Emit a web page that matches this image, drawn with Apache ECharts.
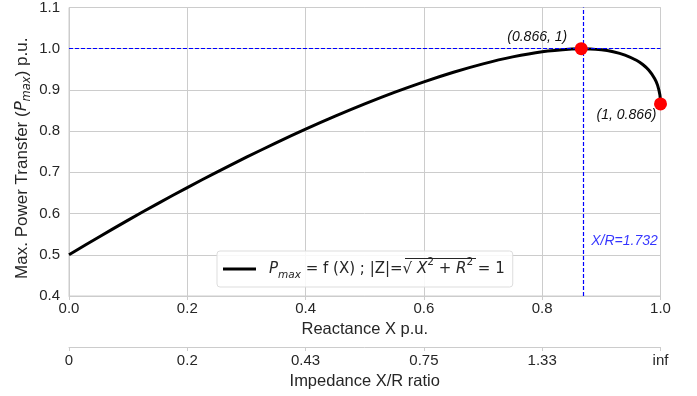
<!DOCTYPE html>
<html><head><meta charset="utf-8">
<script src="https://cdn.jsdelivr.net/npm/echarts@6/dist/echarts.min.js"></script>
<style>html,body{margin:0;padding:0;background:#fff}#c{width:697px;height:396px}</style>
</head><body><div id="c"></div>
<script>
// Reactance X (p.u.) and max power transfer (p.u.)
const xValues = [0, 0.05, 0.1, 0.15, 0.2, 0.25, 0.3, 0.35, 0.4, 0.45, 0.5, 0.55, 0.6, 0.65, 0.7, 0.75, 0.8, 0.85, 0.866, 0.9, 0.92, 0.94, 0.96, 0.97, 0.98, 0.99, 0.995, 0.999, 1.0];
const pmaxValues = [0.5, 0.5427, 0.5841, 0.6242, 0.6631, 0.7006, 0.7368, 0.7715, 0.8047, 0.8362, 0.866, 0.8939, 0.9196, 0.9429, 0.9633, 0.9802, 0.9928, 0.9995, 1.0, 0.9973, 0.9927, 0.9846, 0.9714, 0.9616, 0.9482, 0.9279, 0.9116, 0.8875, 0.866];
const highlightPoints = [[0.866, 1.0], [1.0, 0.866]];
const highlightLabels = ['(0.866, 1)', '(1, 0.866)'];
const xTicks = [0, 0.2, 0.4, 0.6, 0.8, 1.0];
const ratioTickLabels = ['0', '0.2', '0.43', '0.75', '1.33', 'inf'];
const peakX = 0.866, peakY = 1.0;
const ratioText = 'X/R=1.732';
const ratioTextY = 0.532;

const chart = echarts.init(document.getElementById('c'));
const gridCol = '#cccccc', txt = '#262626', blue = '#0000ff';
const font = 'Liberation Sans, Arial, sans-serif';
const dv = 'DejaVu Sans';
const dash = {color: blue, type: [4, 2], width: 1.2, opacity: 1};
chart.setOption({
  animation: false,
  grid: {left: 69, right: 36.5, top: 5.5, bottom: 100, show: true, borderColor: gridCol, borderWidth: 1},
  legend: {
    left: 217, top: 251, padding: [6, 8, 6, 6], itemWidth: 33, itemGap: 14,
    borderColor: '#dddddd', borderWidth: 1, borderRadius: 3, backgroundColor: 'rgba(255,255,255,0.85)',
    data: [{name: 'curve', icon: 'path://M0,0L33,0L33,3L0,3Z'}],
    itemHeight: 3,
    formatter: () => '{pi|P}{sub|max}{n| = f (X) ; |Z|=√}{i| X}{sup|2}{n| + }{i|R}{sup|2}{n| = 1}',
    textStyle: {
      fontFamily: dv, fontSize: 15, color: txt, lineHeight: 24,
      rich: {
        pi: {fontFamily: dv, fontStyle: 'italic', fontSize: 15, color: txt, lineHeight: 24, padding: [0, 0, 0, 8]},
        i: {fontFamily: dv, fontStyle: 'italic', fontSize: 15, color: txt, lineHeight: 24},
        n: {fontFamily: dv, fontSize: 15, color: txt, lineHeight: 24},
        sub: {fontFamily: dv, fontStyle: 'italic', fontSize: 10.5, color: txt, lineHeight: 13, verticalAlign: 'bottom'},
        sup: {fontFamily: dv, fontSize: 10.5, color: txt, lineHeight: 14, verticalAlign: 'top'}
      }
    }
  },
  graphic: [{type: 'line', z: 1000, zlevel: 1, shape: {x1: 405, y1: 258.5, x2: 476, y2: 258.5}, style: {stroke: txt, lineWidth: 1}}],
  xAxis: [{
    type: 'value', min: 0, max: 1, interval: 0.2, position: 'bottom',
    name: 'Reactance X p.u.', nameLocation: 'middle', nameGap: 22,
    nameTextStyle: {fontFamily: font, fontSize: 16.5, color: txt},
    axisLine: {show: true, lineStyle: {color: gridCol}},
    axisTick: {show: true, length: 4, lineStyle: {color: gridCol}},
    axisLabel: {fontFamily: font, fontSize: 15, color: txt, margin: 5, formatter: v => v.toFixed(1)},
    splitLine: {show: true, lineStyle: {color: gridCol}}
  }, {
    type: 'value', min: 0, max: 1, interval: 0.2, position: 'bottom', offset: 51,
    name: 'Impedance X/R ratio', nameLocation: 'middle', nameGap: 25,
    nameTextStyle: {fontFamily: font, fontSize: 16.5, color: txt},
    axisLine: {show: true, onZero: false, lineStyle: {color: gridCol}},
    axisTick: {show: true, length: 4, lineStyle: {color: gridCol}},
    axisLabel: {fontFamily: font, fontSize: 15, color: txt, margin: 6,
      formatter: v => { const k = xTicks.findIndex(t => Math.abs(t - v) < 1e-6); return k >= 0 ? ratioTickLabels[k] : ''; }},
    splitLine: {show: false}
  }],
  yAxis: {
    type: 'value', min: 0.4, max: 1.1, interval: 0.1,
    name: '{n|Max. Power Transfer (}{i|P}{sub|max}{n|) p.u.}', nameLocation: 'middle', nameGap: 36,
    nameMoveOverlap: false,
    nameTextStyle: {fontFamily: font, fontSize: 17, color: txt, padding: [0, 13, 0, 0], rich: {
      n: {fontFamily: font, fontSize: 17, color: txt, lineHeight: 22},
      i: {fontFamily: dv, fontStyle: 'italic', fontSize: 16.5, color: txt, lineHeight: 22},
      sub: {fontFamily: dv, fontStyle: 'italic', fontSize: 11.5, color: txt, lineHeight: 12, verticalAlign: 'bottom'}
    }},
    axisLine: {show: true, lineStyle: {color: gridCol}},
    axisTick: {show: false},
    axisLabel: {fontFamily: font, fontSize: 15, color: txt, margin: 9, formatter: v => v.toFixed(1)},
    splitLine: {show: true, lineStyle: {color: gridCol}}
  },
  series: [{
    name: 'curve', type: 'line', smooth: 0.3, showSymbol: false,
    data: xValues.map((x, i) => [x, pmaxValues[i]]),
    lineStyle: {color: '#000', width: 3}, itemStyle: {color: '#000'},
    markLine: {
      silent: true, symbol: 'none', label: {show: false},
      lineStyle: dash,
      data: [{xAxis: peakX, lineStyle: dash}, {yAxis: peakY, lineStyle: dash}]
    }
  }, {
    name: 'points', type: 'scatter', symbolSize: 13, z: 5,
    itemStyle: {color: '#ff0000', opacity: 1},
    data: [
      {value: highlightPoints[0], label: {show: true, position: 'inside', offset: [-44, -12], formatter: highlightLabels[0]}},
      {value: highlightPoints[1], label: {show: true, position: 'inside', offset: [-34, 11], formatter: highlightLabels[1]}}
    ],
    label: {fontFamily: font, fontStyle: 'italic', fontSize: 14, color: '#111'}
  }, {
    name: 'ratio', type: 'scatter', symbolSize: 0,
    data: [[peakX, ratioTextY]],
    label: {show: true, position: 'right', distance: 10, formatter: ratioText, fontFamily: font, fontStyle: 'italic', fontSize: 14, color: blue}
  }]
});
</script></body></html>
